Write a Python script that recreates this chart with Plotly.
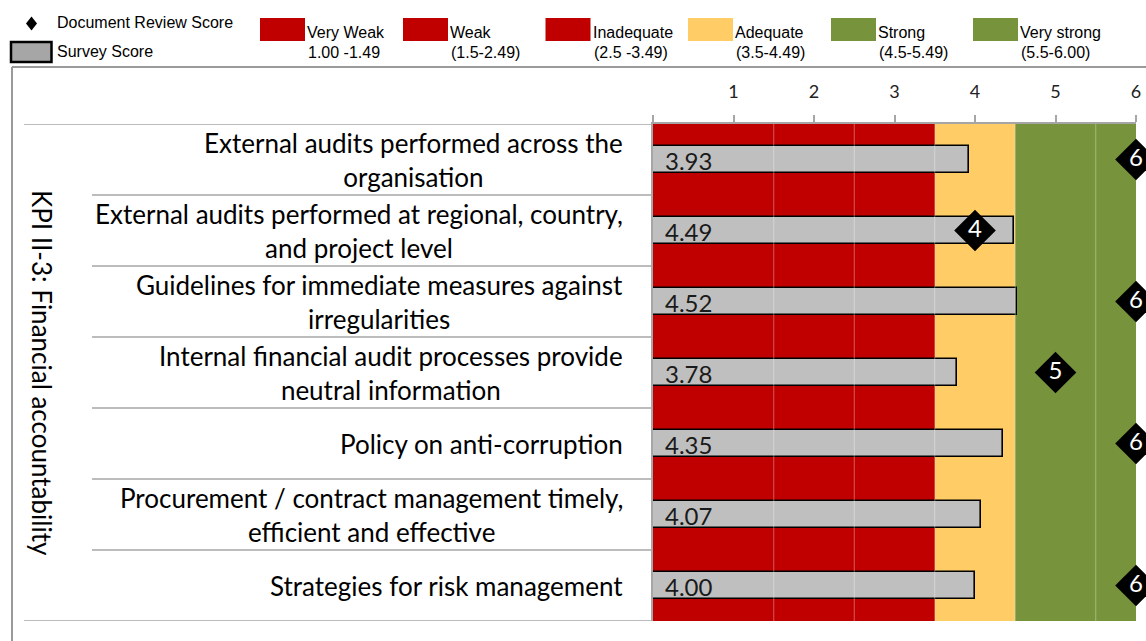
import plotly.graph_objects as go

# ---------------- data ----------------
categories = [
    "External audits performed across the<br>organisation",
    "External audits performed at regional, country,<br>and project level",
    "Guidelines for immediate measures against<br>irregularities",
    "Internal financial audit processes provide<br>neutral information",
    "Policy on anti-corruption",
    "Procurement / contract management timely,<br>efficient and effective",
    "Strategies for risk management",
]
survey_scores = [3.93, 4.49, 4.52, 3.78, 4.35, 4.07, 4.00]
document_scores = [6, 4, 6, 5, 6, None, 6]

band_names = ["Very Weak", "Weak", "Inadequate", "Adequate", "Strong", "Very strong"]
band_ranges = ["1.00 -1.49", "(1.5-2.49)", "(2.5 -3.49)", "(3.5-4.49)", "(4.5-5.49)", "(5.5-6.00)"]
band_edges = [0, 1.5, 2.5, 3.5, 4.5, 5.5, 6.0]
tick_values = [0, 1, 2, 3, 4, 5, 6]
tick_labels = ["", "1", "2", "3", "4", "5", "6"]
group_label = "KPI II-3: Financial accountability"

# ---------------- styles ----------------
RED, YELLOW, GREEN = "#C00000", "#FFCC66", "#77933C"
band_colors = [RED, RED, RED, YELLOW, GREEN, GREEN]
BAR_GREY = "#BFBFBF"
FRAME = "#9A9A9A"
LINE = "#A6A6A6"
LABEL_FONT = "Lato"
LEGEND_FONT = "Liberation Sans"

W, H = 1146, 641
# plot area in page pixels
PL, PR, PT, PB = 653, 1136, 124, 621


def fx(px):
    """page pixel x -> paper x"""
    return (px - PL) / (PR - PL)


def fy(py):
    """page pixel y -> paper y"""
    return (PB - py) / (PB - PT)


fig = go.Figure()

# background bands
for i, col in enumerate(band_colors):
    start, end = band_edges[i], band_edges[i + 1]
    fig.add_trace(go.Bar(
        y=categories, x=[end - start] * len(categories), base=[start] * len(categories),
        orientation="h", width=1, marker=dict(color=col, line=dict(width=0)),
        hoverinfo="skip", showlegend=False,
    ))

# survey bars
fig.add_trace(go.Bar(
    y=categories, x=survey_scores, orientation="h", width=0.38,
    marker=dict(color=BAR_GREY, line=dict(color="black", width=1.6)),
    name="Survey Score", showlegend=False,
))

# document review diamonds
fig.add_trace(go.Scatter(
    y=categories, x=document_scores, mode="markers+text",
    marker=dict(symbol="diamond", size=32, color="black"),
    text=[("" if v is None else f"{v:g}") for v in document_scores],
    textposition="middle center",
    textfont=dict(family=LABEL_FONT, size=24, color="white"),
    cliponaxis=False, name="Document Review Score", showlegend=False,
))

shapes = []
annotations = []

# faint separators between bands
for e in band_edges[1:-1]:
    shapes.append(dict(type="line", xref="x", yref="paper", x0=e, x1=e, y0=0, y1=1,
                       line=dict(color="rgba(255,255,255,0.35)", width=1), layer="above"))

# data labels
for c, v in zip(categories, survey_scores):
    annotations.append(dict(x=0, y=c, xref="x", yref="y", text=f"{v:.2f}", showarrow=False,
                            xanchor="left", yanchor="middle", xshift=10, yshift=-1,
                            font=dict(family=LABEL_FONT, size=24, color="#1a1a1a")))

# category labels
for c in categories:
    annotations.append(dict(x=fx(625), y=c, xref="paper", yref="y", text=c, showarrow=False,
                            xanchor="right", yanchor="middle", align="center",
                            font=dict(family=LABEL_FONT, size=26, color="black")))

# category separators
n = len(categories)
for k in range(n + 1):
    left = 24 if k in (0, n) else 92
    yv = k - 0.5
    shapes.append(dict(type="line", xref="paper", yref="y", x0=fx(left), x1=0, y0=yv, y1=yv,
                       line=dict(color=LINE, width=1.5)))

# group label (vertical)
annotations.append(dict(x=fx(42), y=fy(373), xref="paper", yref="paper", text=group_label,
                        showarrow=False, textangle=90, xanchor="center", yanchor="middle",
                        font=dict(family=LABEL_FONT, size=26, color="black")))

# outer frame
shapes.append(dict(type="line", xref="paper", yref="paper", x0=fx(12), x1=fx(12),
                   y0=fy(67), y1=fy(660), line=dict(color=FRAME, width=2)))
shapes.append(dict(type="line", xref="paper", yref="paper", x0=fx(12), x1=fx(1160),
                   y0=fy(67), y1=fy(67), line=dict(color=FRAME, width=2)))

# legend: document review diamond
cx, cy = 31.5, 23.5
path = (f"M {fx(cx)} {fy(cy - 7)} L {fx(cx + 5.5)} {fy(cy)} "
        f"L {fx(cx)} {fy(cy + 7)} L {fx(cx - 5.5)} {fy(cy)} Z")
shapes.append(dict(type="path", xref="paper", yref="paper", path=path,
                   fillcolor="black", line=dict(width=0)))
annotations.append(dict(x=fx(55), y=fy(23), xref="paper", yref="paper",
                        text="Document Review Score", showarrow=False,
                        xanchor="left", yanchor="middle",
                        font=dict(family=LEGEND_FONT, size=16, color="black")))
# legend: survey box
shapes.append(dict(type="rect", xref="paper", yref="paper", x0=fx(11), x1=fx(51.5),
                   y0=fy(62), y1=fy(42), fillcolor="#A6A6A6",
                   line=dict(color="black", width=2.5)))
annotations.append(dict(x=fx(55), y=fy(52), xref="paper", yref="paper",
                        text="Survey Score", showarrow=False,
                        xanchor="left", yanchor="middle",
                        font=dict(family=LEGEND_FONT, size=16, color="black")))

# legend: rating bands
swatch_left = [260, 403, 545.5, 688, 831, 973]
for xl, name, rng, col in zip(swatch_left, band_names, band_ranges, band_colors):
    shapes.append(dict(type="rect", xref="paper", yref="paper", x0=fx(xl), x1=fx(xl + 45),
                       y0=fy(41), y1=fy(18), fillcolor=col, line=dict(width=0)))
    annotations.append(dict(x=fx(xl + 45), y=fy(32.5), xref="paper", yref="paper", text=name,
                            showarrow=False, xanchor="left", yanchor="middle",
                            font=dict(family=LEGEND_FONT, size=16, color="black")))
    annotations.append(dict(x=fx(xl + 46), y=fy(52.5), xref="paper", yref="paper", text=rng,
                            showarrow=False, xanchor="left", yanchor="middle",
                            font=dict(family=LEGEND_FONT, size=16, color="black")))

fig.update_layout(
    width=W, height=H,
    margin=dict(l=PL, r=W - PR, t=PT, b=H - PB, pad=0, autoexpand=False),
    paper_bgcolor="white", plot_bgcolor="white",
    barmode="overlay", bargap=0, showlegend=False,
    shapes=shapes, annotations=annotations,
    xaxis=dict(range=[0, 6], side="top", tickvals=tick_values, ticktext=tick_labels,
               ticks="outside", ticklen=7, tickcolor=LINE, tickwidth=1.5,
               showline=True, linecolor=LINE, linewidth=1.5, showgrid=False, zeroline=False,
               ticklabelstandoff=10, automargin=False,
               tickfont=dict(family=LABEL_FONT, size=18, color="#222")),
    yaxis=dict(categoryorder="array", categoryarray=categories,
               range=[len(categories) - 0.5, -0.5], automargin=False,
               showticklabels=False, ticks="", showgrid=False, zeroline=False,
               showline=True, linecolor=LINE, linewidth=1.5),
)

fig.write_html(
    "out.html",
    config={"displayModeBar": False, "responsive": False},
    post_script="document.body.style.margin='0';document.body.style.overflow='hidden';",
)
